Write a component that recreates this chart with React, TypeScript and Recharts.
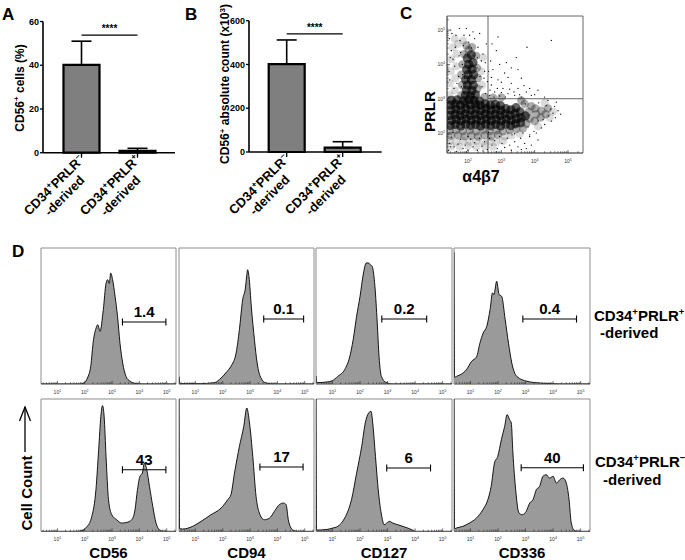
import React from 'react';
import {
  BarChart, Bar, XAxis, YAxis, ErrorBar, ReferenceLine, ReferenceArea, ReferenceDot,
  ScatterChart, Scatter, AreaChart, Area,
} from 'recharts';

const FONT = '"Liberation Sans", Arial, Helvetica, sans-serif';
type Pt = [number, number];

// ---------- Panels A & B ----------
const barCategories = ['neg', 'pos'];
const pctValues = [40.2, 0.8];
const pctErrors = [10.8, 1.2];
const pctTicks = [0, 20, 40, 60];
const pctSignificance = 53.8;
const countValues = [402, 20];
const countErrors = [110, 27];
const countTicks = [0, 200, 400, 600];
const countSignificance = 540;
const significanceText = '****';

// ---------- Panel C (log10 decades) ----------
const cXDomain: Pt = [1.37, 5.45];
const cYDomain: Pt = [1.42, 5.41];
const cMajorTicks = [2, 3, 4, 5];
const cGateX = 2.6;
const cGateY = 3.0;
const cDense: Pt[] = [
  [1.47,2.22],[1.62,2.25],[1.78,2.21],[1.93,2.26],[2.08,2.22],[2.23,2.25],[2.38,2.21],[2.53,2.26],[2.68,2.22],[2.83,2.25],[2.98,2.21],[3.13,2.26],[3.28,2.22],[3.43,2.27],[3.58,2.3],
  [1.5,2.37],[1.65,2.4],[1.8,2.36],[1.95,2.41],[2.1,2.37],[2.25,2.4],[2.4,2.36],[2.55,2.41],[2.7,2.37],[2.85,2.4],[3.0,2.36],[3.15,2.41],[3.3,2.37],[3.45,2.42],[3.6,2.45],[3.72,2.5],
  [1.46,2.52],[1.61,2.55],[1.76,2.51],[1.91,2.56],[2.06,2.52],[2.21,2.55],[2.36,2.51],[2.51,2.56],[2.66,2.52],[2.81,2.55],[2.96,2.51],[3.11,2.56],[3.26,2.52],[3.41,2.57],[3.56,2.62],
  [1.49,2.67],[1.64,2.7],[1.79,2.66],[1.94,2.71],[2.09,2.67],[2.24,2.7],[2.39,2.66],[2.54,2.71],[2.69,2.67],[2.84,2.7],[2.99,2.66],[3.14,2.71],[3.29,2.68],[3.44,2.74],
  [1.47,2.82],[1.62,2.85],[1.77,2.81],[1.92,2.86],[2.07,2.82],[2.22,2.85],[2.37,2.81],[2.52,2.85],[2.67,2.82],[2.82,2.84],[2.97,2.8],
  [1.5,2.95],[1.68,2.97],[1.86,2.94],[2.02,2.98],[2.18,2.95],[2.35,2.93],
  [1.92,3.1],[2.08,3.08],[2.22,3.12],[1.95,3.25],[2.12,3.24],[1.98,3.4],[2.16,3.39],[1.93,3.55],[2.1,3.55],[2.0,3.7],[2.17,3.7],
  [1.96,3.85],[2.12,3.86],[2.02,4.0],[2.15,4.05],[1.98,4.18],[2.1,4.28],
];
const cMedium: Pt[] = [
  [3.75,2.28],[3.85,2.42],[3.82,2.62],[3.9,2.78],[4.0,2.35],[4.05,2.55],[4.02,2.72],[4.18,2.45],[4.2,2.65],[4.33,2.55],[4.4,2.72],[3.7,2.85],[3.6,2.95],
  [1.45,2.07],[1.65,2.09],[1.85,2.06],[2.05,2.08],[2.25,2.05],[2.45,2.09],[2.65,2.06],[2.85,2.08],[3.05,2.05],[3.25,2.09],[3.45,2.12],[3.65,2.14],
  [1.5,1.92],[1.7,1.94],[1.9,1.91],[2.1,1.93],[2.3,1.9],[2.5,1.94],[2.7,1.91],[2.9,1.95],
  [1.8,3.1],[1.82,3.4],[1.8,3.7],[1.84,4.0],[1.88,4.3],[2.28,3.3],[2.3,3.6],[2.27,3.9],[2.24,4.25],[2.02,4.42],[1.95,4.55],[2.12,4.5],
  [2.5,3.05],[2.75,3.03],[3.0,3.04],
];
const cLight: Pt[] = [
  [3.3,1.93],[3.1,1.9],[3.55,1.98],[4.1,2.2],[4.45,2.45],[4.55,2.62],[4.3,2.88],
  [1.45,1.77],[1.65,1.75],[1.85,1.78],[2.05,1.74],[2.25,1.77],[2.45,1.75],[2.65,1.78],[2.85,1.74],[3.05,1.77],
  [1.5,1.62],[1.75,1.6],[2.0,1.63],[2.25,1.6],[2.5,1.62],[2.75,1.6],
  [1.45,3.1],[1.6,3.25],[1.45,3.45],[1.62,3.6],[1.48,3.8],[1.65,3.95],[1.5,4.15],[1.66,4.3],[1.55,4.5],[1.7,4.6],[1.6,4.75],[1.85,4.7],
  [2.42,3.4],[2.4,3.8],[2.45,4.2],
];
const cSparse: Pt[] = [
  [1.42,3.05],[1.45,3.55],[1.47,4.2],[1.44,4.75],[1.52,4.9],[1.58,3.3],[1.6,3.95],[1.62,4.5],[1.64,4.85],[1.7,3.05],
  [1.72,3.65],[1.73,4.25],[1.76,4.7],[1.8,3.35],[1.83,4.0],[1.86,4.55],[1.88,4.85],[1.9,3.6],[1.92,4.3],[2.02,4.65],
  [2.05,4.85],[2.1,4.48],[2.18,4.25],[2.2,4.75],[2.24,3.5],[2.27,3.9],[2.3,4.5],[2.33,3.2],[2.36,3.65],[2.4,4.1],
  [2.42,3.35],[2.45,4.3],[2.5,3.8],[2.53,3.15],[2.55,4.6],[2.58,3.5],[1.48,5.0],[1.95,5.05],[2.35,4.9],[1.43,3.8],
  [1.55,4.15],[1.67,3.45],[1.78,4.35],[1.84,3.7],[2.28,4.2],[2.48,3.6],[1.5,4.4],[1.74,5.05],[2.15,4.95],[2.52,4.05],
  [2.65,3.1],[2.7,3.4],[2.75,3.85],[2.8,3.2],[2.9,3.55],[2.95,3.08],[3.05,3.3],[3.1,3.75],[3.2,3.15],[3.3,3.45],
  [3.4,3.1],[3.5,3.3],[3.6,3.05],[3.75,3.2],[3.9,3.1],[2.68,4.1],[2.85,4.4],[3.15,4.05],[3.45,4.2],[3.77,4.5],
  [3.3,3.9],[4.1,3.25],[4.3,3.05],[2.72,4.6],[3.6,3.6],[4.5,4.7],[2.9,4.8],[2.66,3.25],[2.78,3.05],[2.88,3.3],
  [3.0,3.18],[3.12,3.05],[3.25,3.28],[3.38,3.2],[3.55,3.12],[3.68,3.38],[3.85,3.3],[4.0,3.12],[2.7,3.62],[3.0,3.48],
  [3.2,3.62],[2.62,3.8],[2.95,4.0],[3.5,3.85],
  [3.45,2.2],[3.6,2.42],[3.72,2.85],[3.8,2.18],[3.95,2.62],[4.1,2.35],[4.12,2.88],[4.25,2.4],[4.35,2.8],[4.42,2.5],
  [4.48,2.7],[4.55,2.58],[4.62,2.45],[4.4,2.95],[4.7,2.65],[4.2,2.15],[3.98,2.05],[3.65,2.0],[3.4,1.98],[4.6,2.78],
  [4.5,2.35],[4.3,2.25],[4.78,2.55],[4.65,2.9],[4.05,2.0],[3.85,1.95],
  [1.42,1.5],[1.45,1.7],[1.5,1.88],[1.58,1.6],[1.65,1.47],[1.7,1.68],[1.78,1.82],[1.85,1.55],[1.92,1.65],[2.0,1.5],
  [2.08,1.82],[2.15,1.6],[2.2,1.72],[2.28,1.5],[2.35,1.85],[2.42,1.62],[2.5,1.75],[2.58,1.52],[2.65,1.85],[2.72,1.65],
  [2.8,1.78],[2.88,1.55],[2.95,1.9],[3.02,1.7],[3.1,1.58],[3.18,1.85],[3.25,1.65],[3.32,1.95],[3.4,1.75],[3.5,1.6],
  [3.58,1.85],[3.7,1.7],[3.85,1.9],[3.6,1.52],[1.55,2.02],[2.62,2.02],[3.2,2.0],[2.0,1.9],[1.48,1.6],[2.45,1.48],
  [1.4,2.2],[1.41,2.6],[1.43,2.9],[1.42,2.4],[3.3,1.5],[3.9,1.65],[4.1,1.8],[2.85,1.45],[1.95,1.45],[3.75,1.55],
];

// ---------- Panel D histograms (x: log10 decade, y: % of axis height) ----------
const hDomain: Pt = [0.4, 5.34];
const hMajorTicks = [1, 2, 3, 4, 5];
const markers = ['CD56', 'CD94', 'CD127', 'CD336'];
const histPosCD56: Pt[] = [[0.4,0],[1.8,0],[1.95,0.5],[2.1,4.4],[2.22,13],[2.32,32.6],[2.4,40],[2.48,43.6],[2.56,38.7],[2.68,54.7],[2.78,74],[2.84,76.7],[2.9,74],[2.95,81.6],[3.02,76.7],[3.11,64.5],[3.2,49.8],[3.29,30],[3.39,15.4],[3.51,5.6],[3.66,2],[3.9,0.2],[4.2,0],[5.34,0]];
const histPosCD94: Pt[] = [[0.4,5.5],[0.43,0.4],[1.2,0.3],[1.7,1],[1.94,4.4],[2.15,9],[2.3,13],[2.49,22.8],[2.61,40],[2.73,62],[2.83,70.6],[2.88,80],[2.91,84],[2.96,79],[3.05,56],[3.16,32.6],[3.26,15.4],[3.4,4.4],[3.59,0.7],[3.9,0],[5.34,0]];
const histPosCD127: Pt[] = [[0.4,6],[0.43,1],[0.8,1.5],[1.0,2.5],[1.19,5.6],[1.44,10.5],[1.625,20],[1.75,32.6],[1.875,49.8],[2.0,64.5],[2.125,81.6],[2.225,89],[2.31,89],[2.375,87.7],[2.44,86.5],[2.54,71.8],[2.625,44.9],[2.69,20.3],[2.775,5.6],[2.94,1.2],[3.2,0],[5.34,0]];
const histPosCD336: Pt[] = [[0.4,97],[0.42,5],[0.49,5.6],[0.85,10.5],[1.04,16.7],[1.22,20],[1.34,30],[1.46,37.5],[1.59,42.4],[1.71,54.7],[1.8,67],[1.85,65.7],[1.95,75.5],[2.04,65.7],[2.13,64.5],[2.26,47.3],[2.38,30],[2.5,15.4],[2.68,5.6],[3.05,2],[3.54,0.7],[4.02,0.2],[4.3,0],[5.34,0]];
const histNegCD56: Pt[] = [[0.4,0],[1.7,0],[1.83,0.3],[2.07,3.3],[2.26,11.3],[2.41,31.5],[2.51,61.7],[2.59,86.9],[2.65,95],[2.71,86.9],[2.78,56.7],[2.87,23.9],[2.99,12.6],[3.17,8.8],[3.35,6.3],[3.54,6.8],[3.72,8.8],[3.84,16.4],[3.93,31.5],[4.02,41.6],[4.11,44.1],[4.18,51.6],[4.27,46.6],[4.37,34],[4.49,18.9],[4.61,6.3],[4.73,1.3],[4.88,0],[5.34,0]];
const histNegCD94: Pt[] = [[0.4,100],[0.42,2],[0.54,1.8],[0.9,3.8],[1.21,7.6],[1.57,12.6],[1.94,17.6],[2.18,23.9],[2.3,27.7],[2.43,44],[2.61,64.2],[2.77,79.3],[2.88,93.2],[2.98,81.9],[3.1,56.7],[3.22,26.4],[3.34,13.9],[3.52,8.8],[3.71,10],[3.89,15.1],[4.07,20.2],[4.23,21.4],[4.32,20.2],[4.4,8.8],[4.5,2.5],[4.62,0.5],[4.8,0],[5.34,0]];
const histNegCD127: Pt[] = [[0.4,100],[0.42,1],[0.8,1.5],[1.0,2.5],[1.19,3.8],[1.44,10],[1.69,24],[1.875,44],[2.06,64.2],[2.19,82],[2.31,89.4],[2.4,90.7],[2.46,82],[2.56,56.7],[2.66,31.5],[2.79,11.3],[2.875,5],[3.0,6.8],[3.06,7.6],[3.19,6.3],[3.375,5],[3.625,3.3],[3.875,1.3],[4.0,0],[5.34,0]];
const histNegCD336: Pt[] = [[0.4,100],[0.42,2],[0.48,2.5],[0.72,3.8],[0.96,6.3],[1.21,10],[1.45,16.4],[1.63,24],[1.75,34],[1.87,51.6],[1.99,56.7],[2.12,69.3],[2.24,79.3],[2.33,88.2],[2.42,84.4],[2.48,81.9],[2.54,59.2],[2.64,31.5],[2.76,13.9],[2.88,12.6],[3.02,15.1],[3.15,21.4],[3.27,24],[3.39,31.5],[3.51,34],[3.63,41.6],[3.75,42.8],[3.87,40.3],[4.0,41.6],[4.12,36.5],[4.24,39],[4.36,40.3],[4.48,36.5],[4.58,24],[4.66,6.3],[4.78,0.5],[4.9,0],[5.34,0]];
// gates: [from, to, height %, label]
type Gate = [number, number, number, string];
const gatesPos: Gate[] = [[3.38,4.97,45.6,'1.4'],[3.5,4.96,47.8,'0.1'],[2.79,4.42,47.8,'0.2'],[2.9,4.85,47.8,'0.4']];
const gatesNeg: Gate[] = [[3.38,4.97,46.6,'43'],[3.36,4.94,48.6,'17'],[2.97,4.56,47.9,'6'],[2.84,5.1,48.1,'40']];

// ---------- helpers ----------
function logTicks(lo: number, hi: number) {
  const out: number[] = [];
  for (let n = 0; n <= 5; n++) {
    for (let k = 1; k <= 9; k++) {
      const v = +(n + Math.log10(k)).toFixed(4);
      if (v >= lo && v <= hi) out.push(v);
    }
  }
  return out;
}
const isMajor = (v: number) => Math.abs(v - Math.round(v)) < 1e-6;

const BarTick = (props: any) => {
  const { x, y, payload } = props;
  const sign = payload.value === 'neg' ? '\u2212' : '+';
  return (
    <g transform={`translate(${x + 3},${y + 1}) rotate(-45)`}>
      <text textAnchor="middle" fontFamily={FONT} fontWeight="bold" fontSize={13} fill="#000">
        <tspan x={-39} y={0}>CD34</tspan>
        <tspan dy={-5} fontSize={8.5}>+</tspan>
        <tspan dy={5}>PRLR</tspan>
        <tspan dy={-5} fontSize={8.5}>{sign}</tspan>
        <tspan x={-39} y={15}>-derived</tspan>
      </text>
    </g>
  );
};

const FlowXTick = (props: any) => {
  const { x, y, payload, labels } = props;
  const v = payload.value;
  const major = isMajor(v);
  return (
    <g>
      <line x1={x} x2={x} y1={y} y2={y - (major ? 3 : 1.7)} stroke="#333" strokeWidth={0.7} />
      {major && labels.includes(Math.round(v)) && (
        <text x={x} y={y + 10} textAnchor="middle" fontSize={5} fill="#333" fontFamily={FONT}>
          10<tspan dy={-2} fontSize={3.6}>{Math.round(v)}</tspan>
        </text>
      )}
    </g>
  );
};

const FlowYTick = (props: any) => {
  const { x, y, payload, labels } = props;
  const v = payload.value;
  const major = isMajor(v);
  return (
    <g>
      <line x1={x} x2={x + (major ? 3 : 1.7)} y1={y} y2={y} stroke="#333" strokeWidth={0.7} />
      {major && labels.includes(Math.round(v)) && (
        <text x={x - 2} y={y + 1.8} textAnchor="end" fontSize={5} fill="#333" fontFamily={FONT}>
          10<tspan dy={-2} fontSize={3.6}>{Math.round(v)}</tspan>
        </text>
      )}
    </g>
  );
};

function BarPanel(p: {
  values: number[]; errors: number[]; ticks: number[]; sig: number;
  left: number; width: number; height: number; plotTop: number; plotH: number; padL: number; padR: number;
}) {
  const data = barCategories.map((cat, i) => ({ cat, v: p.values[i], err: [0, p.errors[i]] }));
  const axisH = p.height - p.plotTop - p.plotH;
  return (
    <div style={{ position: 'absolute', left: p.left, top: 0 }}>
      <BarChart width={p.width} height={p.height} data={data} margin={{ top: p.plotTop, right: 4, left: 0, bottom: 0 }}>
        <XAxis dataKey="cat" height={axisH} padding={{ left: p.padL, right: p.padR }} interval={0}
          axisLine={{ stroke: '#000', strokeWidth: 1.6 }} tickLine={{ stroke: '#000', strokeWidth: 1.3 }} tickSize={5}
          tick={<BarTick />} />
        <YAxis width={43} domain={[0, p.ticks[p.ticks.length - 1]]} ticks={p.ticks} interval={0}
          axisLine={{ stroke: '#000', strokeWidth: 1.6 }} tickLine={{ stroke: '#000', strokeWidth: 1.3 }}
          tickSize={3} tickMargin={1}
          tick={{ fontSize: 9, fontWeight: 'bold', fill: '#000', fontFamily: FONT }} />
        <Bar dataKey="v" fill="#7f7f7f" stroke="#000" strokeWidth={2.2} barSize={36} isAnimationActive={false}>
          <ErrorBar dataKey="err" width={10} stroke="#000" strokeWidth={1.6} direction="y" isAnimationActive={false} />
        </Bar>
        <ReferenceLine segment={[{ x: 'neg', y: p.sig }, { x: 'pos', y: p.sig }]} stroke="#000" strokeWidth={1.3}
          label={{ value: significanceText, position: 'top', offset: 3, fontSize: 10, fontWeight: 'bold', fill: '#000', fontFamily: FONT }} />
      </BarChart>
    </div>
  );
}

function ScatterPanel() {
  const toObj = (a: Pt[]) => a.map(([x, y]) => ({ x, y }));
  const ticksX = logTicks(cXDomain[0], cXDomain[1]);
  const ticksY = logTicks(cYDomain[0], cYDomain[1]);
  return (
    <div style={{ position: 'absolute', left: 427, top: 6 }}>
      <ScatterChart width={161} height={162} margin={{ top: 10, right: 5, left: 0, bottom: 0 }}>
        <XAxis type="number" dataKey="x" domain={cXDomain} ticks={ticksX} interval={0} height={15} allowDataOverflow
          axisLine={{ stroke: '#555', strokeWidth: 0.8 }} tickLine={false} tickSize={0} tickMargin={0}
          tick={(t: any) => <FlowXTick {...t} labels={cMajorTicks} />} />
        <YAxis type="number" dataKey="y" domain={cYDomain} ticks={ticksY} interval={0} width={20} allowDataOverflow
          axisLine={{ stroke: '#555', strokeWidth: 0.8 }} tickLine={false} tickSize={0} tickMargin={0}
          tick={(t: any) => <FlowYTick {...t} labels={cMajorTicks} />} />
        <ReferenceArea x1={cXDomain[0]} x2={cXDomain[1]} y1={cYDomain[0]} y2={cYDomain[1]} fill="none" stroke="#555" strokeWidth={0.9} fillOpacity={0} />
        <Scatter data={toObj(cLight)} isAnimationActive={false}
          shape={(s: any) => <circle cx={s.cx} cy={s.cy} r={4} fill="#000" fillOpacity={0.14} />} />
        <Scatter data={toObj(cMedium)} isAnimationActive={false}
          shape={(s: any) => <circle cx={s.cx} cy={s.cy} r={4.2} fill="#000" fillOpacity={0.32} />} />
        <Scatter data={toObj(cDense)} isAnimationActive={false}
          shape={(s: any) => <circle cx={s.cx} cy={s.cy} r={4.6} fill="#000" fillOpacity={0.62} />} />
        <Scatter data={toObj(cSparse)} isAnimationActive={false}
          shape={(s: any) => <circle cx={s.cx} cy={s.cy} r={0.65} fill="#000" />} />
        <ReferenceLine x={cGateX} stroke="#555" strokeWidth={0.9} />
        <ReferenceLine segment={[{ x: cGateX, y: cGateY }, { x: cXDomain[1], y: cGateY }]} stroke="#555" strokeWidth={0.9} />
      </ScatterChart>
    </div>
  );
}

function Hist(p: { pts: Pt[]; gate: Gate; left: number; top: number; w: number; h: number }) {
  const data = p.pts.map(([x, y]) => ({ x, y }));
  const [a, b, gy, label] = p.gate;
  const ticks = logTicks(hDomain[0], hDomain[1]);
  const cap = 2.6;
  return (
    <div style={{ position: 'absolute', left: p.left - 1, top: p.top - 1 }}>
      <AreaChart width={p.w + 3} height={p.h + 13} data={data} margin={{ top: 1, right: 2, left: 1, bottom: 0 }}>
        <XAxis type="number" dataKey="x" domain={hDomain} ticks={ticks} interval={0} height={12} allowDataOverflow
          axisLine={{ stroke: '#666', strokeWidth: 0.8 }} tickLine={false} tickSize={0} tickMargin={0}
          tick={(t: any) => <FlowXTick {...t} labels={hMajorTicks} />} />
        <YAxis hide width={0} domain={[0, 100]} allowDataOverflow />
        <ReferenceArea x1={hDomain[0]} x2={hDomain[1]} y1={0} y2={100} fill="none" fillOpacity={0} stroke="#8c8c8c" strokeWidth={1} />
        <Area type="monotone" dataKey="y" stroke="#000" strokeWidth={0.9} fill="#9a9a9a" fillOpacity={1}
          isAnimationActive={false} dot={false} activeDot={false} />
        <ReferenceLine segment={[{ x: a, y: gy }, { x: b, y: gy }]} stroke="#000" strokeWidth={1.1} />
        <ReferenceLine segment={[{ x: a, y: gy - cap }, { x: a, y: gy + cap }]} stroke="#000" strokeWidth={1.1} />
        <ReferenceLine segment={[{ x: b, y: gy - cap }, { x: b, y: gy + cap }]} stroke="#000" strokeWidth={1.1} />
        <ReferenceDot x={(a + b) / 2} y={gy} r={0} fill="none" stroke="none"
          label={{ value: label, position: 'top', offset: 5, fontSize: 15, fontWeight: 'bold', fill: '#000', fontFamily: FONT }} />
      </AreaChart>
    </div>
  );
}

const boxLefts = [41, 179, 316, 454];
const boxWidths = [135, 135, 136, 136];
const boxCenters = boxLefts.map((l, i) => l + boxWidths[i] / 2);

export default function App() {
  const posHists = [histPosCD56, histPosCD94, histPosCD127, histPosCD336];
  const negHists = [histNegCD56, histNegCD94, histNegCD127, histNegCD336];
  return (
    <div style={{ position: 'absolute', left: 0, top: 0, width: 685, height: 560, background: '#fff', overflow: 'hidden', fontFamily: FONT }}>
      <BarPanel values={pctValues} errors={pctErrors} ticks={pctTicks} sig={pctSignificance}
        left={0} width={179} height={230} plotTop={21.5} plotH={131.2} padL={10.5} padR={9.5} />
      <BarPanel values={countValues} errors={countErrors} ticks={countTicks} sig={countSignificance}
        left={206.3} width={179.7} height={230} plotTop={20.7} plotH={131.3} padL={9.7} padR={11} />
      <ScatterPanel />
      {posHists.map((pts, i) => (
        <Hist key={'p' + i} pts={pts} gate={gatesPos[i]} left={boxLefts[i]} top={248.3} w={boxWidths[i]} h={136} />
      ))}
      {negHists.map((pts, i) => (
        <Hist key={'n' + i} pts={pts} gate={gatesNeg[i]} left={boxLefts[i]} top={399.3} w={boxWidths[i]} h={132.4} />
      ))}
      <svg width={685} height={560} style={{ position: 'absolute', left: 0, top: 0, pointerEvents: 'none' }}
        fontFamily={FONT} fontWeight="bold" fill="#000">
        <text x={2} y={20} fontSize={17}>A</text>
        <text x={185} y={20} fontSize={17}>B</text>
        <text x={400} y={19} fontSize={17}>C</text>
        <text x={12} y={257} fontSize={17}>D</text>
        <text transform="translate(23.5,88) rotate(-90)" textAnchor="middle" fontSize={12}>
          CD56<tspan dy={-4.5} fontSize={8}>+</tspan><tspan dy={4.5}> cells (%)</tspan>
        </text>
        <text transform="translate(229,84) rotate(-90)" textAnchor="middle" fontSize={12}>
          CD56<tspan dy={-4.5} fontSize={8}>+</tspan><tspan dy={4.5}> absolute count (x10</tspan><tspan dy={-4.5} fontSize={8}>3</tspan><tspan dy={4.5}>)</tspan>
        </text>
        <text transform="translate(435,111.7) rotate(-90)" textAnchor="middle" fontSize={15}>PRLR</text>
        <text x={481} y={182} textAnchor="middle" fontSize={16}>{'\u03b14\u03b27'}</text>
        <text transform="translate(32,493) rotate(-90)" textAnchor="middle" fontSize={15}>Cell Count</text>
        <g stroke="#000" strokeWidth={1.3} fill="none">
          <line x1={25} y1={452} x2={25} y2={407} />
          <polyline points="19.5,421 25,407 30.5,421" />
        </g>
        {markers.map((m, i) => (
          <text key={m} x={boxCenters[i]} y={557.5} textAnchor="middle" fontSize={15}>{m}</text>
        ))}
        <text x={594} y={320.7} fontSize={15}>CD34<tspan dy={-5.5} fontSize={9.5}>+</tspan><tspan dy={5.5}>PRLR</tspan><tspan dy={-5.5} fontSize={9.5}>+</tspan></text>
        <text x={600} y={338} fontSize={15}>-derived</text>
        <text x={595} y={466.7} fontSize={15}>CD34<tspan dy={-5.5} fontSize={9.5}>+</tspan><tspan dy={5.5}>PRLR</tspan><tspan dy={-5.5} fontSize={9.5}>{'\u2212'}</tspan></text>
        <text x={603} y={485} fontSize={15}>-derived</text>
      </svg>
    </div>
  );
}
